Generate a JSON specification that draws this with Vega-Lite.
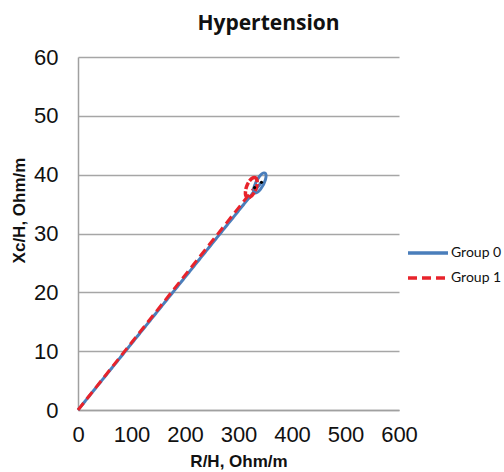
{
  "$schema": "https://vega.github.io/schema/vega-lite/v6.json",
  "width": 321,
  "height": 353,
  "autosize": "none",
  "padding": {"left": 78, "top": 57, "right": 105, "bottom": 62},
  "background": "white",
  "title": {
    "text": "Hypertension",
    "font": "Open Sans",
    "fontSize": 21,
    "fontWeight": "bold",
    "color": "#111111",
    "anchor": "middle",
    "dx": 30,
    "offset": 12
  },
  "config": {
    "view": {"stroke": null},
    "axis": {
      "labelFont": "Liberation Sans",
      "labelFontSize": 22,
      "labelColor": "#111111",
      "labelFlush": false,
      "titleFont": "Liberation Sans",
      "titleFontSize": 17,
      "titleFontWeight": "bold",
      "titleColor": "#111111",
      "domainColor": "#a0a0a0",
      "domainWidth": 1.5,
      "ticks": false,
      "gridColor": "#a6a6a6",
      "gridWidth": 1.4
    }
  },
  "datasets": {
    "lines": [
      {"group": "Group 0", "r": 0, "xc": 0},
      {"group": "Group 0", "r": 343, "xc": 38.7},
      {"group": "Group 1", "r": 0, "xc": 0},
      {"group": "Group 1", "r": 330, "xc": 37.8}
    ],
    "ellipses": [
      {"group": "Group 0", "r": 340, "xc": 38.6},
      {"group": "Group 1", "r": 324, "xc": 37.8}
    ],
    "means": [
      {"group": "Group 0", "r": 343, "xc": 38.7},
      {"group": "Group 1", "r": 330, "xc": 37.8}
    ]
  },
  "layer": [
    {
      "data": {"name": "lines"},
      "mark": {"type": "line", "strokeWidth": 3},
      "encoding": {
        "x": {
          "field": "r", "type": "quantitative",
          "scale": {"domain": [0, 600], "nice": false},
          "axis": {"values": [0, 100, 200, 300, 400, 500, 600], "grid": false, "labelPadding": 14, "title": "R/H, Ohm/m", "titlePadding": 8}
        },
        "y": {
          "field": "xc", "type": "quantitative",
          "scale": {"domain": [0, 60], "nice": false},
          "axis": {"values": [0, 10, 20, 30, 40, 50, 60], "grid": true, "labelPadding": 20, "title": "Xc/H, Ohm/m", "titleX": -50, "titleY": 153}
        },
        "color": {
          "field": "group", "type": "nominal",
          "scale": {"domain": ["Group 0", "Group 1"], "range": ["#4A7EBB", "#E8232B"]},
          "legend": {
            "title": null,
            "orient": "none",
            "legendX": 338,
            "legendY": 184,
            "padding": 0,
            "symbolType": "M-2,0H2",
            "symbolSize": 400,
            "symbolStrokeWidth": 3.5,
            "labelOffset": 11,
            "rowPadding": 6,
            "labelFont": "Lato",
            "labelFontSize": 14,
            "labelColor": "#111111"
          }
        },
        "strokeDash": {
          "field": "group", "type": "nominal",
          "scale": {"domain": ["Group 0", "Group 1"], "range": [[1, 0], [9, 5]]},
          "legend": null
        },
        "detail": {"field": "group"}
      }
    },
    {
      "data": {"name": "ellipses"},
      "transform": [{"filter": "datum.group == 'Group 0'"}],
      "mark": {
        "type": "point",
        "shape": "M0.454,-0.891A1,0.36,-63,1,0,-0.454,0.891A1,0.36,-63,1,0,0.454,-0.891Z",
        "size": 484,
        "filled": false,
        "stroke": "#4A7EBB",
        "strokeWidth": 3,
        "opacity": 1
      },
      "encoding": {
        "x": {"field": "r", "type": "quantitative"},
        "y": {"field": "xc", "type": "quantitative"}
      }
    },
    {
      "data": {"name": "ellipses"},
      "transform": [{"filter": "datum.group == 'Group 1'"}],
      "mark": {
        "type": "point",
        "shape": "M0.358,-0.934A1,0.45,-69,1,0,-0.358,0.934A1,0.45,-69,1,0,0.358,-0.934Z",
        "size": 460,
        "filled": false,
        "stroke": "#E8232B",
        "strokeWidth": 3.5,
        "strokeDash": [7, 2],
        "opacity": 1
      },
      "encoding": {
        "x": {"field": "r", "type": "quantitative"},
        "y": {"field": "xc", "type": "quantitative"}
      }
    },
    {
      "data": {"name": "means"},
      "mark": {"type": "point", "shape": "circle", "size": 10, "filled": true, "color": "#000000", "opacity": 1},
      "encoding": {
        "x": {"field": "r", "type": "quantitative"},
        "y": {"field": "xc", "type": "quantitative"}
      }
    }
  ]
}
